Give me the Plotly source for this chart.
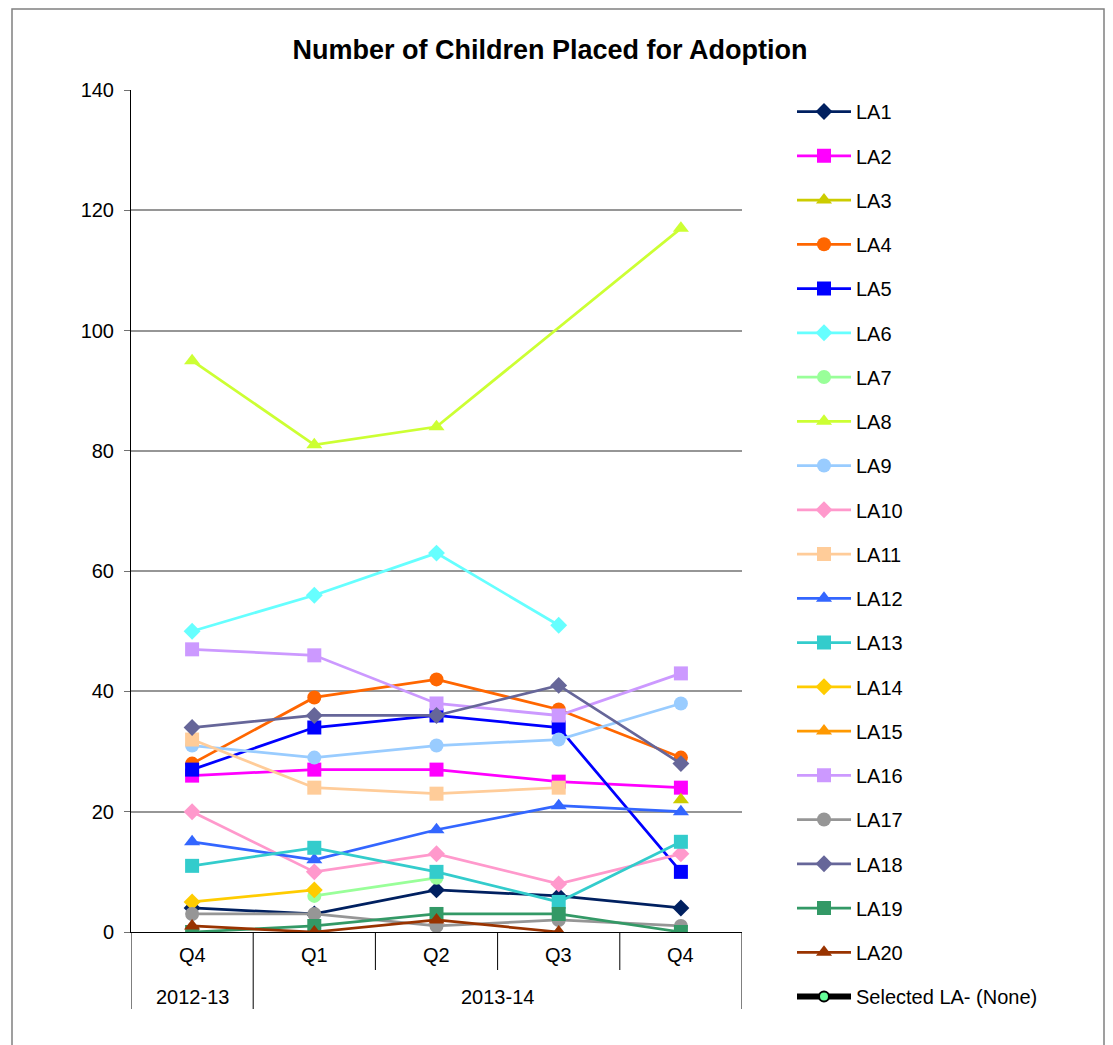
import plotly.graph_objects as go

# ---- data ----
years = ["2012-13", "2013-14", "2013-14", "2013-14", "2013-14"]
quarters = ["Q4", "Q1", "Q2", "Q3", "Q4"]
periods = [f"{y} {q}" for y, q in zip(years, quarters)]

series_names = ["LA1", "LA2", "LA3", "LA4", "LA5", "LA6", "LA7", "LA8", "LA9", "LA10",
                "LA11", "LA12", "LA13", "LA14", "LA15", "LA16", "LA17", "LA18", "LA19", "LA20"]

LA1 = [4, 3, 7, 6, 4]
LA2 = [26, 27, 27, 25, 24]
LA3 = [None, None, None, None, 22]
LA4 = [28, 39, 42, 37, 29]
LA5 = [27, 34, 36, 34, 10]
LA6 = [50, 56, 63, 51, None]
LA7 = [None, 6, 9, None, None]
LA8 = [95, 81, 84, None, 117]
LA9 = [31, 29, 31, 32, 38]
LA10 = [20, 10, 13, 8, 13]
LA11 = [32, 24, 23, 24, None]
LA12 = [15, 12, 17, 21, 20]
LA13 = [11, 14, 10, 5, 15]
LA14 = [5, 7, None, None, None]
LA15 = [None, None, None, None, None]
LA16 = [47, 46, 38, 36, 43]
LA17 = [3, 3, 1, 2, 1]
LA18 = [34, 36, 36, 41, 28]
LA19 = [0, 1, 3, 3, 0]
LA20 = [1, 0, 2, 0, None]
selected_name = "Selected LA- (None)"
selected_values = [None, None, None, None, None]

series_values = [LA1, LA2, LA3, LA4, LA5, LA6, LA7, LA8, LA9, LA10,
                 LA11, LA12, LA13, LA14, LA15, LA16, LA17, LA18, LA19, LA20]

# ---- styles ----
colors = ["#002060", "#FF00FF", "#CCCC00", "#FF6600", "#0000FF", "#66FFFF", "#99FF99",
          "#CCFF33", "#99CCFF", "#FF99CC", "#FFCC99", "#3366FF", "#33CCCC", "#FFCC00",
          "#FF9900", "#CC99FF", "#969696", "#666699", "#339966", "#993300"]
symbols = ["diamond", "square", "triangle-up", "circle", "square", "diamond", "circle",
           "triangle-up", "circle", "diamond", "square", "triangle-up", "square", "diamond",
           "triangle-up", "square", "circle", "diamond", "square", "triangle-up"]
sizes = {"diamond": 13, "square": 14, "triangle-up": 14, "circle": 14}

FONT = "Liberation Sans, Arial, sans-serif"

fig = go.Figure()
for i, (name, vals) in enumerate(zip(series_names, series_values)):
    sym = symbols[i]
    fig.add_trace(go.Scatter(
        x=periods, y=vals, name=name, mode="lines+markers",
        line=dict(color=colors[i], width=2.75),
        marker=dict(symbol=sym, size=sizes[sym], color=colors[i]),
        connectgaps=True, legendgroup=name,
    ))
fig.add_trace(go.Scatter(
    x=periods, y=selected_values, name=selected_name, mode="lines+markers",
    line=dict(color="black", width=6),
    marker=dict(symbol="circle", size=10, color="#66FF99", line=dict(color="black", width=2)),
    legendgroup=selected_name,
))

# ---- layout geometry (page pixels; page body has an 8px margin) ----
OFF = 8
W, H = 1113 - 2 * OFF, 1045 - OFF
L, R, T, B = 131 - OFF, 742 - OFF, 90 - OFF, 932 - OFF
pw, ph = R - L, B - T

def py(p):  # page pixel y -> paper y
    return (B - (p - OFF)) / ph

def px(p):  # page pixel x -> paper x
    return ((p - OFF) - L) / pw

shapes = []
# chart frame
shapes.append(dict(type="rect", xref="paper", yref="paper",
                   x0=px(12), x1=px(1104), y0=py(1090), y1=py(9),
                   line=dict(color="#808080", width=1.5), layer="below"))
# category tick lines and group dividers
n = len(periods)
for i in range(n + 1):
    xb = i - 0.5
    is_group_edge = (i == 0 or i == n or years[i] != years[i - 1])
    shapes.append(dict(type="line", xref="x", yref="paper", x0=xb, x1=xb,
                       y0=0, y1=py(1009) if is_group_edge else py(970),
                       line=dict(color="black", width=1)))

annotations = []
for p, q in zip(periods, quarters):
    annotations.append(dict(x=p, xref="x", y=py(955), yref="paper", text=q,
                            showarrow=False, font=dict(size=20, color="black", family=FONT),
                            xanchor="center", yanchor="middle"))
# year group labels
groups = []
for i, y in enumerate(years):
    if groups and groups[-1][0] == y:
        groups[-1][2] = i
    else:
        groups.append([y, i, i])
for y, a, b in groups:
    annotations.append(dict(x=(a + b) / 2, xref="x", y=py(997), yref="paper", text=y,
                            showarrow=False, font=dict(size=20, color="black", family=FONT),
                            xanchor="center", yanchor="middle"))

fig.update_layout(
    width=W, height=H,
    margin=dict(l=L, r=W - R, t=T, b=H - B, pad=0),
    paper_bgcolor="white", plot_bgcolor="white",
    font=dict(family=FONT, color="black"),
    title=dict(text="<b>Number of Children Placed for Adoption</b>",
               x=(550 - OFF) / W, xref="container", xanchor="center",
               y=1 - (50 - OFF) / H, yref="container", yanchor="middle",
               font=dict(size=27, color="black", family=FONT)),
    xaxis=dict(type="category", categoryorder="array", categoryarray=periods,
               range=[-0.5, n - 0.5], showticklabels=False, ticks="",
               showgrid=False, showline=True, linecolor="black", linewidth=1,
               zeroline=False, fixedrange=True),
    yaxis=dict(range=[0, 140], dtick=20, showgrid=True, gridcolor="#969696", gridwidth=2,
               showline=True, linecolor="black", linewidth=1, ticks="outside",
               ticklen=6, tickcolor="#707070", tickfont=dict(size=20, family=FONT),
               zeroline=False, ticklabelstandoff=6),
    legend=dict(x=784 / W, xref="container", xanchor="left",
                y=1 - (92 - OFF) / H, yref="container", yanchor="top",
                font=dict(size=20, family=FONT), traceorder="grouped",
                tracegroupgap=15.25, itemwidth=54, bgcolor="rgba(0,0,0,0)",
                maxheight=3000),
    shapes=shapes, annotations=annotations,
    showlegend=True,
)

fig.write_html("out.html")
